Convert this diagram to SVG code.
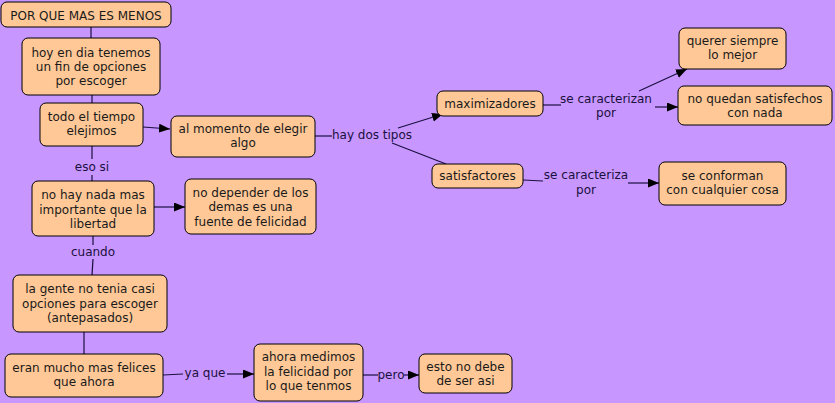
<svg xmlns="http://www.w3.org/2000/svg" width="835" height="403" viewBox="0 0 835 403">
<defs>
<marker id="ah" markerWidth="12" markerHeight="10" refX="11" refY="4.5" orient="auto" markerUnits="userSpaceOnUse"><path d="M0,0 L11,4.5 L0,9 z" fill="#000"/></marker>
<style>
.n rect{fill:#FFC896;stroke:#000;stroke-width:1}
.n text{font-family:"DejaVu Sans",Verdana,sans-serif;font-size:12px;fill:#1a1a1a;text-anchor:middle}
.l{font-family:"DejaVu Sans",Verdana,sans-serif;font-size:12px;fill:#1a1040;text-anchor:middle}
.c path{fill:none;stroke:#1a1040;stroke-width:1.2}
.c path.a{marker-end:url(#ah)}
</style>
</defs>
<rect x="0" y="0" width="835" height="403" fill="#C896FF"/>
<g class="c" id="connectors">
<path d="M91,27 V38"/>
<path d="M92,95 V103"/>
<path d="M92,146 V159"/><path d="M92,175 V181"/>
<path d="M93,236 V245"/><path d="M93,259 L92,275"/>
<path d="M84,332 V354"/>
<path class="a" d="M143,127 L170,129"/>
<path class="a" d="M154,207 L185,207"/>
<path d="M163,375 L183,374"/><path class="a" d="M227,374 L254,374"/>
<path d="M363,375 L378,375"/><path class="a" d="M404,375 L419,375"/>
<path d="M315,136 L332,136"/>
<path class="a" d="M398,128 L443,114"/>
<path d="M392,143 L446,164"/>
<path d="M543,105 L561,105"/>
<path class="a" d="M639,91 L687,69"/>
<path class="a" d="M655,107 L678,107"/>
<path d="M523,180 L543,181"/>
<path class="a" d="M628,183 L659,183"/>
<text class="l" x="92" y="171">eso si</text>
<text class="l" x="93" y="256">cuando</text>
<text class="l" x="205" y="377">ya que</text>
<text class="l" x="391" y="379">pero</text>
<text class="l" x="372" y="139">hay dos tipos</text>
<text class="l" x="606" y="103">se caracterizan</text>
<text class="l" x="606" y="117">por</text>
<text class="l" x="586" y="179">se caracteriza</text>
<text class="l" x="586" y="194">por</text>
</g>
<g class="n" id="n1"><rect x="1" y="2" width="170" height="25" rx="6"/><text x="86" y="20">POR QUE MAS ES MENOS</text></g>
<g class="n" id="n2"><rect x="22" y="38" width="138" height="57" rx="6"/><text x="91" y="57">hoy en dia tenemos</text><text x="91" y="71">un fin de opciones</text><text x="91" y="85">por escoger</text></g>
<g class="n" id="n3"><rect x="40" y="103" width="103" height="43" rx="6"/><text x="91.5" y="121">todo el tiempo</text><text x="91.5" y="135">elejimos</text></g>
<g class="n" id="n4"><rect x="171" y="116" width="144" height="41" rx="6"/><text x="243" y="133">al momento de elegir</text><text x="243" y="147">algo</text></g>
<g class="n" id="n5"><rect x="32" y="181" width="122" height="55" rx="6"/><text x="93" y="199">no hay nada mas</text><text x="93" y="214">importante que la</text><text x="93" y="228">libertad</text></g>
<g class="n" id="n6"><rect x="185" y="179" width="131" height="55" rx="6"/><text x="250.5" y="197">no depender de los</text><text x="250.5" y="211">demas es una</text><text x="250.5" y="226">fuente de felicidad</text></g>
<g class="n" id="n7"><rect x="13" y="275" width="154" height="57" rx="6"/><text x="90" y="293">la gente no tenia casi</text><text x="90" y="308">opciones para escoger</text><text x="90" y="322">(antepasados)</text></g>
<g class="n" id="n8"><rect x="5" y="354" width="158" height="43" rx="6"/><text x="84" y="372">eran mucho mas felices</text><text x="84" y="386">que ahora</text></g>
<g class="n" id="n9"><rect x="254" y="344" width="109" height="57" rx="6"/><text x="308.5" y="361">ahora medimos</text><text x="308.5" y="376">la felicidad por</text><text x="308.5" y="390">lo que tenmos</text></g>
<g class="n" id="n10"><rect x="419" y="354" width="93" height="39" rx="6"/><text x="465.5" y="371">esto no debe</text><text x="465.5" y="385">de ser asi</text></g>
<g class="n" id="n11"><rect x="437" y="91" width="106" height="25" rx="6"/><text x="490" y="108">maximizadores</text></g>
<g class="n" id="n12"><rect x="432" y="164" width="91" height="24" rx="6"/><text x="477.5" y="180">satisfactores</text></g>
<g class="n" id="n13"><rect x="679" y="28" width="107" height="41" rx="6"/><text x="732.5" y="45">querer siempre</text><text x="732.5" y="59">lo mejor</text></g>
<g class="n" id="n14"><rect x="678" y="86" width="154" height="39" rx="6"/><text x="755" y="103">no quedan satisfechos</text><text x="755" y="117">con nada</text></g>
<g class="n" id="n15"><rect x="659" y="162" width="127" height="43" rx="6"/><text x="722.5" y="180">se conforman</text><text x="722.5" y="194">con cualquier cosa</text></g>
</svg>
